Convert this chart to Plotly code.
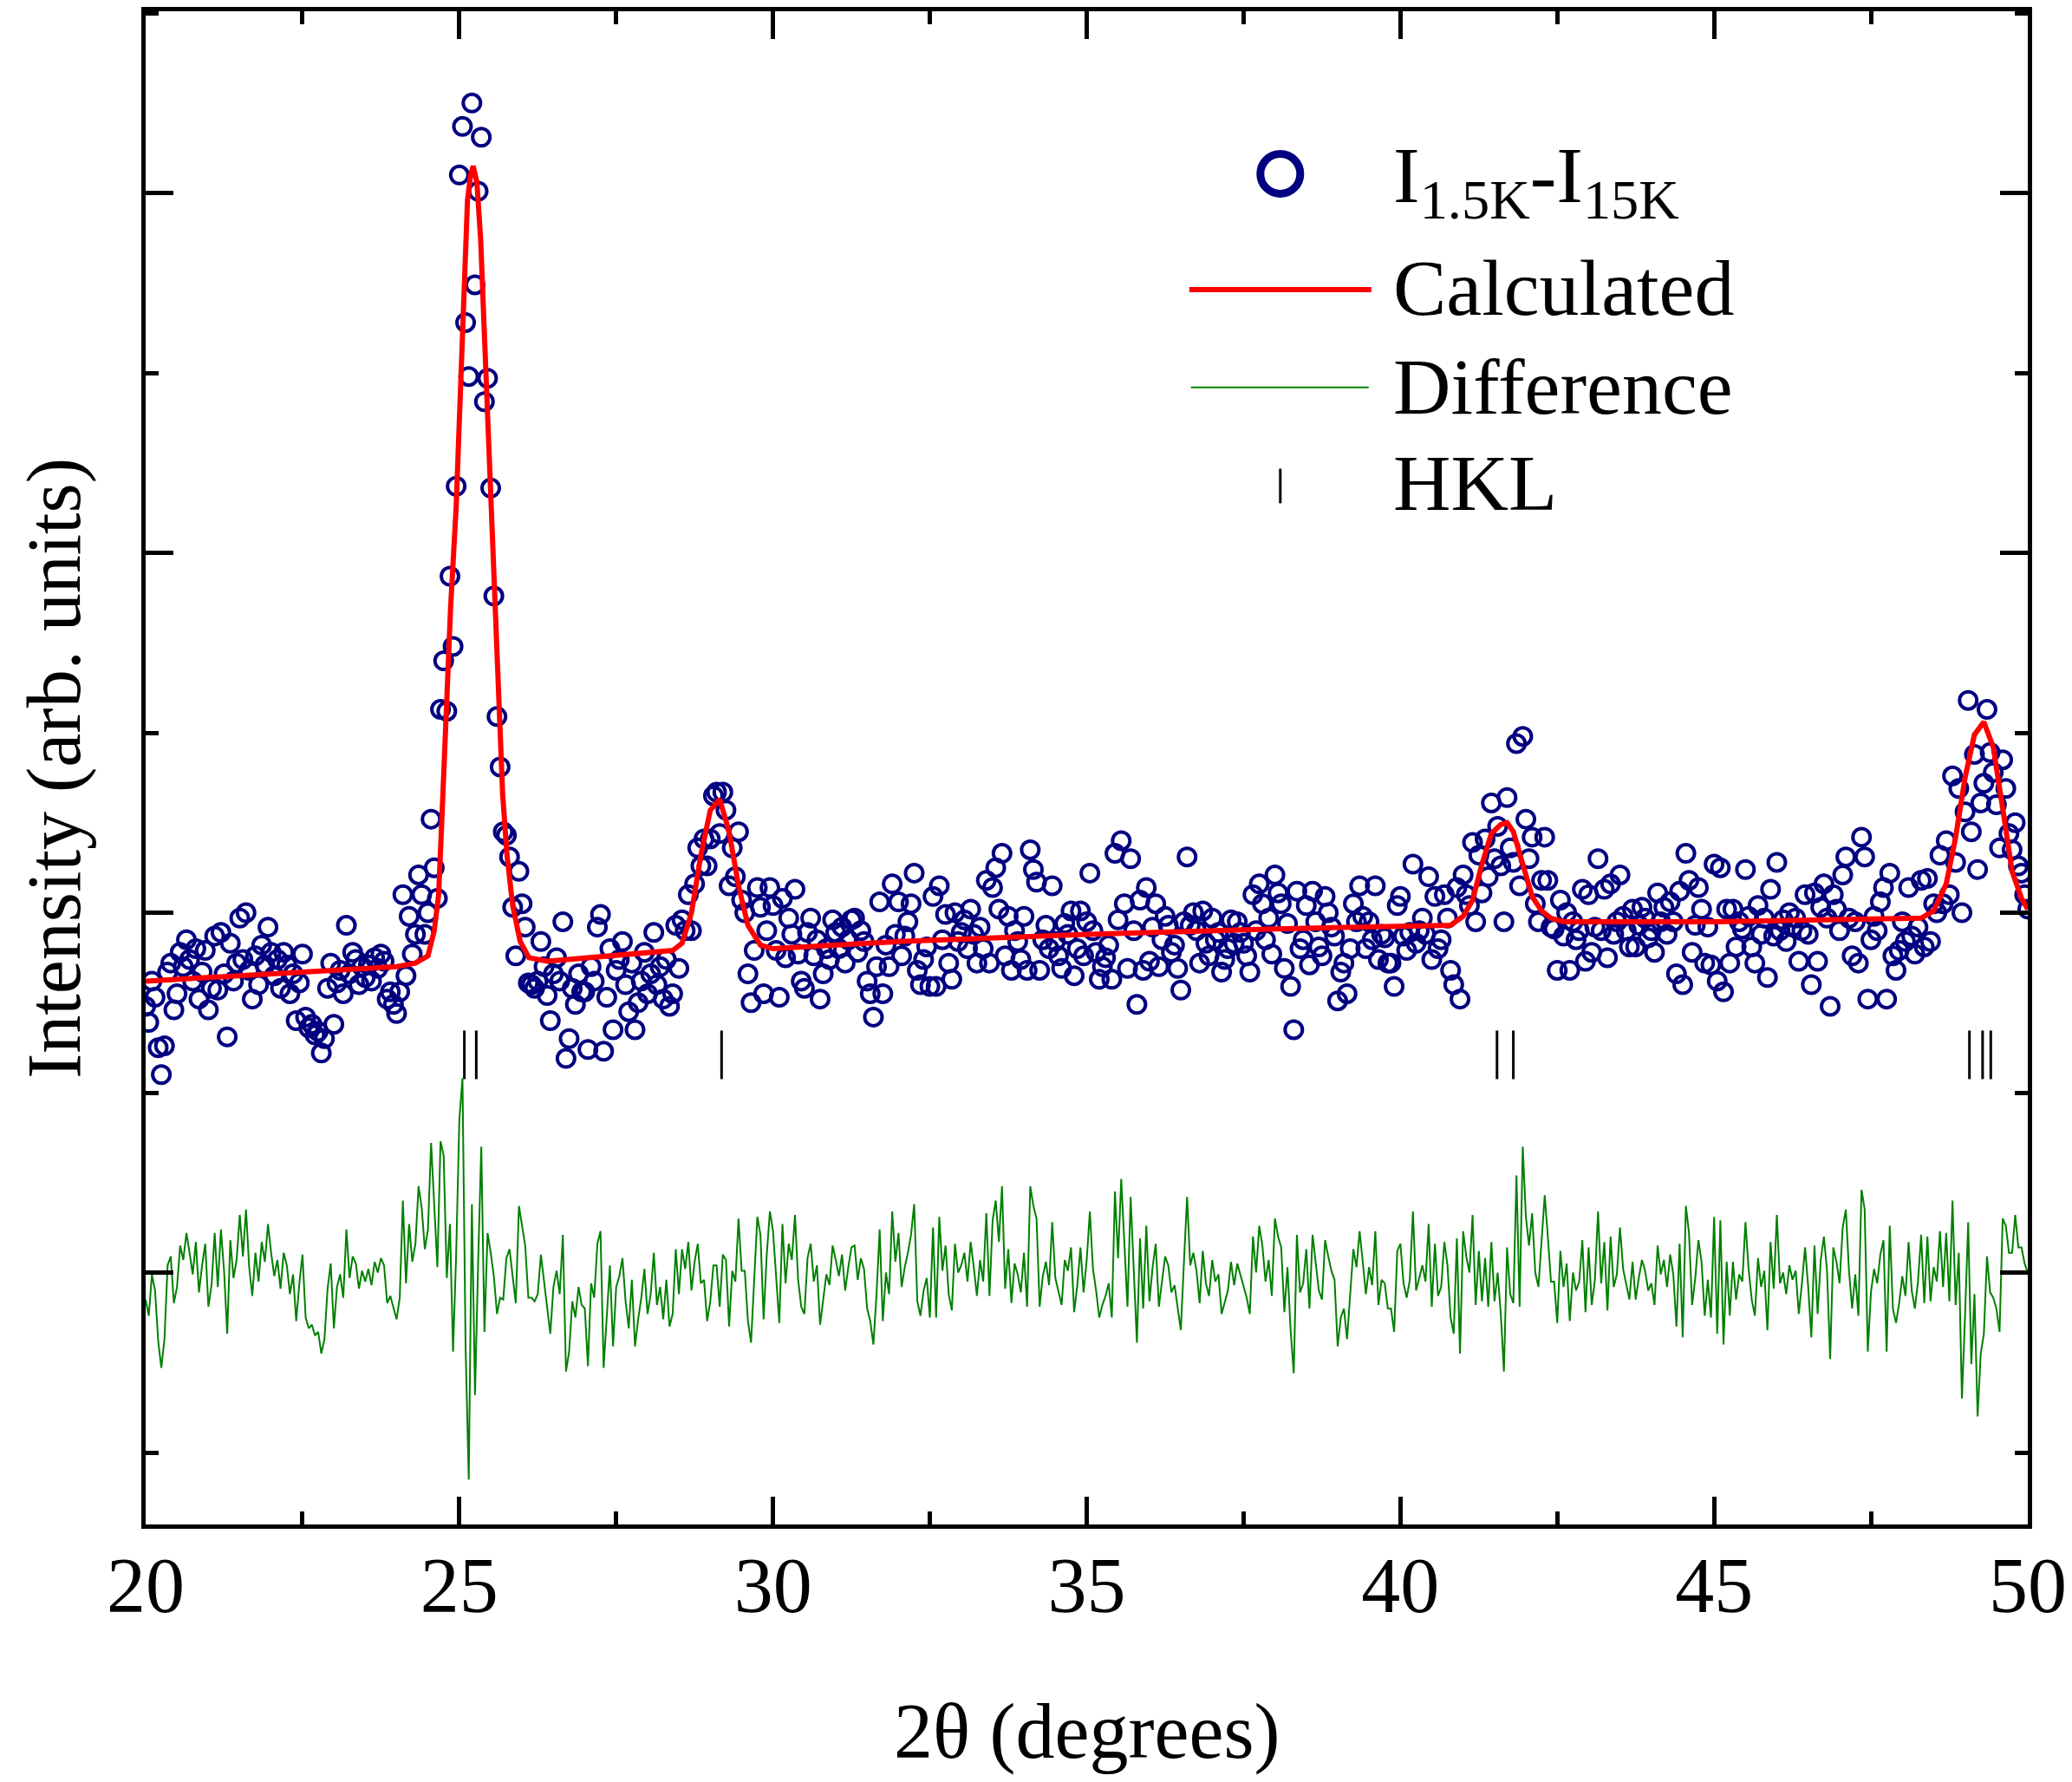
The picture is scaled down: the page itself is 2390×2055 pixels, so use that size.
import numpy as np
import plotly.graph_objects as go

# --- data (y in arbitrary units, 1 unit = one minor y tick) ---
TWO_THETA_START = 20.0
TWO_THETA_STEP = 0.05

# observed I(1.5K) - I(15K), one row per degree (20 points each), last value at 50.00
OBS = [
    1.48, 1.39, 1.62, 1.53, 1.25, 1.10, 1.26, 1.67, 1.72, 1.46, 1.55, 1.78, 1.70, 1.85, 1.74, 1.62, 1.80, 1.52, 1.67, 1.79,
    1.46, 1.58, 1.87, 1.57, 1.89, 1.66, 1.31, 1.83, 1.62, 1.72, 1.97, 1.74, 2.00, 1.68, 1.52, 1.76, 1.60, 1.82, 1.71, 1.92,
    1.78, 1.65, 1.74, 1.58, 1.78, 1.71, 1.55, 1.66, 1.40, 1.61, 1.77, 1.42, 1.36, 1.38, 1.32, 1.34, 1.22, 1.30, 1.58, 1.72,
    1.38, 1.61, 1.68, 1.55, 1.93, 1.66, 1.78, 1.74, 1.60, 1.70, 1.64, 1.71, 1.62, 1.75, 1.69, 1.77, 1.73, 1.52, 1.56, 1.49,
    1.44, 1.56, 2.10, 1.65, 1.98, 1.77, 1.88, 2.21, 2.10, 1.88, 2.00, 2.52, 2.25, 2.08, 3.13, 3.40, 3.12, 3.87, 3.48, 4.37,
    6.10, 6.37, 5.28, 4.98, 6.50, 5.49, 6.01, 6.31, 4.84, 4.97, 4.36, 3.76, 3.09, 2.81, 2.45, 2.43, 2.31, 2.03, 1.76, 2.23,
    2.05, 1.92, 1.61, 1.60, 1.58, 1.62, 1.84, 1.70, 1.54, 1.40, 1.66, 1.75, 1.62, 1.95, 1.19, 1.30, 1.58, 1.49, 1.66, 1.56,
    1.56, 1.24, 1.70, 1.62, 1.92, 1.99, 1.23, 1.53, 1.80, 1.35, 1.68, 1.74, 1.84, 1.60, 1.45, 1.72, 1.35, 1.50, 1.62, 1.78,
    1.55, 1.66, 1.89, 1.60, 1.70, 1.52, 1.74, 1.48, 1.55, 1.93, 1.69, 1.96, 1.90, 2.10, 1.90, 2.16, 2.36, 2.26, 2.41, 2.26,
    2.41, 2.65, 2.67, 2.44, 2.67, 2.57, 2.15, 2.36, 2.20, 2.45, 2.07, 2.00, 1.66, 1.50, 1.79, 2.14, 2.03, 1.55, 1.90, 2.14,
    2.04, 1.79, 1.53, 2.08, 1.75, 1.97, 1.88, 2.13, 1.77, 1.62, 1.58, 1.89, 1.97, 1.76, 1.85, 1.52, 1.66, 1.80, 1.74, 1.96,
    1.89, 1.80, 1.92, 1.72, 1.85, 1.96, 1.97, 1.78, 1.90, 1.84, 1.62, 1.55, 1.42, 1.70, 2.06, 1.55, 1.82, 1.70, 2.16, 1.88,
    2.06, 1.76, 1.87, 1.95, 2.05, 2.22, 1.68, 1.60, 1.74, 1.81, 1.59, 2.09, 1.59, 2.15, 1.85, 1.99, 1.72, 1.63, 2.00, 1.84,
    1.89, 1.96, 1.80, 2.02, 1.88, 1.72, 1.92, 1.80, 2.18, 1.72, 2.14, 2.25, 2.02, 2.33, 1.76, 1.98, 1.68, 1.90, 1.84, 1.74,
    1.98, 1.68, 2.35, 2.24, 2.17, 1.68, 1.85, 1.93, 1.80, 2.15, 1.84, 1.76, 1.69, 1.94, 1.88, 2.01, 1.65, 1.80, 2.01, 1.76,
    1.95, 2.22, 1.90, 1.78, 1.63, 1.70, 1.75, 1.82, 1.63, 2.33, 1.96, 2.40, 2.05, 1.69, 2.30, 1.90, 1.49, 2.07, 1.68, 2.14,
    1.73, 1.92, 2.05, 1.70, 1.85, 1.98, 1.93, 1.78, 1.82, 1.69, 1.57, 1.95, 2.31, 1.93, 2.00, 1.90, 1.72, 2.01, 1.83, 1.76,
    1.97, 1.85, 1.89, 1.67, 1.74, 1.80, 1.96, 1.83, 1.95, 1.89, 1.83, 1.76, 1.67, 2.10, 1.90, 2.16, 2.05, 1.85, 1.97, 1.77,
    2.21, 2.11, 2.05, 1.69, 1.94, 1.59, 1.35, 2.12, 1.80, 1.85, 2.04, 1.71, 2.12, 1.95, 1.81, 1.76, 2.09, 2.00, 1.92, 1.87,
    1.51, 1.67, 1.72, 1.55, 1.80, 2.05, 1.95, 2.15, 1.98, 1.80, 1.95, 1.85, 2.15, 1.74, 1.88, 1.86, 1.72, 1.72, 1.59, 2.04,
    2.09, 1.87, 1.79, 1.89, 2.27, 1.83, 1.90, 1.97, 1.88, 2.20, 1.74, 2.09, 1.80, 1.85, 2.10, 1.97, 1.68, 1.60, 2.14, 1.52,
    2.21, 2.10, 2.04, 2.39, 1.95, 2.32, 2.11, 2.41, 2.20, 2.61, 2.30, 2.48, 2.26, 1.95, 2.64, 2.36, 2.28, 2.94, 2.15, 2.98,
    2.52, 2.30, 2.42, 2.05, 1.95, 2.18, 2.42, 2.18, 1.92, 1.91, 1.68, 2.07, 1.87, 2.00, 1.68, 1.95, 1.85, 1.90, 2.13, 1.73,
    2.10, 1.78, 1.92, 2.30, 1.90, 2.13, 1.75, 2.16, 1.88, 1.95, 2.21, 1.98, 1.90, 1.81, 2.02, 1.81, 1.93, 2.03, 1.97, 1.86,
    1.90, 1.78, 2.11, 1.95, 2.03, 1.88, 2.06, 1.95, 1.66, 2.12, 1.60, 2.33, 2.18, 1.78, 1.93, 2.14, 2.02, 1.72, 1.92, 1.71,
    2.27, 1.62, 2.25, 1.56, 2.02, 1.72, 2.02, 1.81, 1.95, 1.91, 2.24, 1.98, 1.81, 1.72, 2.04, 1.88, 1.97, 1.64, 2.13, 1.87,
    2.28, 1.90, 1.96, 1.84, 2.00, 1.92, 1.97, 1.73, 1.90, 2.10, 1.88, 1.60, 2.11, 1.73, 2.03, 2.16, 1.97, 1.48, 2.10, 2.02,
    1.90, 2.21, 2.31, 1.97, 1.76, 1.95, 1.72, 2.42, 2.31, 1.52, 1.85, 1.98, 1.90, 2.06, 2.14, 1.52, 2.22, 1.76, 1.68, 1.79,
    1.95, 1.84, 2.14, 1.87, 1.77, 1.92, 2.18, 1.81, 2.19, 1.84, 2.05, 2.00, 2.32, 2.05, 2.40, 2.10, 2.76, 2.28, 2.69, 2.00,
    2.56, 3.18, 2.45, 2.88, 2.24, 2.61, 2.72, 3.13, 2.89, 2.78, 2.60, 2.36, 2.85, 2.69, 2.44, 2.35, 2.50, 2.26, 2.22, 2.10,
    2.02,
]

# difference curve (zero line at y = 0), same grid
DIFF = [
    -0.15, -0.24, -0.01, -0.10, -0.38, -0.53, -0.37, 0.04, 0.09, -0.17, -0.08, 0.15, 0.07, 0.22, 0.11, -0.01, 0.17, -0.11, 0.04, 0.16,
    -0.19, -0.07, 0.22, -0.08, 0.24, 0.01, -0.34, 0.18, -0.03, 0.07, 0.32, 0.09, 0.35, 0.03, -0.13, 0.11, -0.05, 0.17, 0.06, 0.27,
    0.11, -0.02, 0.07, -0.09, 0.11, 0.04, -0.12, -0.01, -0.27, -0.06, 0.10, -0.25, -0.31, -0.29, -0.35, -0.33, -0.45, -0.37, -0.09, 0.05,
    -0.31, -0.08, -0.01, -0.14, 0.24, -0.03, 0.09, 0.05, -0.09, 0.01, -0.05, 0.02, -0.07, 0.06, 0.00, 0.08, 0.04, -0.17, -0.13, -0.20,
    -0.26, -0.14, 0.40, -0.06, 0.27, 0.06, 0.16, 0.48, 0.36, 0.13, 0.24, 0.72, 0.35, 0.03, 0.73, 0.65, -0.03, 0.27, -0.44, 0.11,
    0.85, 1.08, -0.42, -1.15, 0.38, -0.68, 0.06, 0.70, -0.33, 0.22, 0.11, -0.02, -0.23, -0.14, -0.15, 0.08, 0.13, -0.01, -0.17, 0.37,
    0.25, 0.15, -0.14, -0.14, -0.16, -0.12, 0.10, -0.04, -0.20, -0.34, -0.08, 0.01, -0.12, 0.21, -0.55, -0.44, -0.16, -0.25, -0.08, -0.18,
    -0.20, -0.52, -0.06, -0.14, 0.16, 0.23, -0.53, -0.23, 0.04, -0.41, -0.08, -0.02, 0.08, -0.16, -0.31, -0.04, -0.41, -0.26, -0.14, 0.02,
    -0.23, -0.12, 0.11, -0.18, -0.08, -0.26, -0.04, -0.30, -0.23, 0.13, -0.12, 0.13, 0.02, 0.17, -0.10, 0.06, 0.16, -0.06, -0.04, -0.27,
    -0.16, 0.04, 0.04, -0.19, 0.10, 0.07, -0.30, 0.01, -0.05, 0.30, 0.01, 0.01, -0.27, -0.39, -0.06, 0.31, 0.21, -0.26, 0.10, 0.34,
    0.23, -0.02, -0.28, 0.27, -0.06, 0.16, 0.07, 0.32, -0.04, -0.19, -0.23, 0.08, 0.16, -0.05, 0.04, -0.29, -0.15, -0.01, -0.07, 0.15,
    0.07, -0.02, 0.10, -0.10, 0.03, 0.14, 0.15, -0.04, 0.08, 0.02, -0.20, -0.27, -0.40, -0.12, 0.24, -0.27, 0.00, -0.12, 0.34, 0.06,
    0.22, -0.08, 0.03, 0.11, 0.21, 0.38, -0.16, -0.24, -0.10, -0.03, -0.25, 0.25, -0.25, 0.31, 0.01, 0.15, -0.12, -0.21, 0.16, 0.00,
    0.04, 0.11, -0.05, 0.17, 0.03, -0.13, 0.07, -0.05, 0.33, -0.13, 0.29, 0.40, 0.17, 0.48, -0.09, 0.13, -0.17, 0.05, -0.01, -0.11,
    0.11, -0.19, 0.48, 0.37, 0.30, -0.19, -0.02, 0.06, -0.07, 0.28, -0.03, -0.11, -0.18, 0.07, 0.01, 0.14, -0.22, -0.07, 0.14, -0.11,
    0.07, 0.34, 0.02, -0.10, -0.25, -0.18, -0.13, -0.06, -0.25, 0.45, 0.08, 0.52, 0.17, -0.19, 0.42, 0.02, -0.39, 0.19, -0.20, 0.26,
    -0.16, 0.03, 0.16, -0.19, -0.04, 0.09, 0.04, -0.11, -0.07, -0.20, -0.32, 0.06, 0.42, 0.04, 0.11, 0.01, -0.17, 0.12, -0.06, -0.13,
    0.07, -0.05, -0.01, -0.23, -0.16, -0.10, 0.06, -0.07, 0.05, -0.01, -0.07, -0.14, -0.23, 0.20, 0.00, 0.26, 0.15, -0.05, 0.07, -0.13,
    0.30, 0.20, 0.14, -0.22, 0.03, -0.32, -0.56, 0.21, -0.11, -0.06, 0.13, -0.20, 0.21, 0.04, -0.10, -0.15, 0.18, 0.09, 0.01, -0.04,
    -0.41, -0.25, -0.20, -0.37, -0.12, 0.13, 0.03, 0.23, 0.06, -0.12, 0.03, -0.07, 0.23, -0.18, -0.04, -0.06, -0.20, -0.20, -0.33, 0.12,
    0.16, -0.06, -0.14, -0.04, 0.34, -0.10, -0.03, 0.04, -0.05, 0.27, -0.19, 0.16, -0.13, -0.08, 0.17, 0.04, -0.25, -0.34, 0.19, -0.45,
    0.23, 0.09, 0.00, 0.32, -0.18, 0.12, -0.16, 0.08, -0.19, 0.17, -0.16, 0.00, -0.23, -0.55, 0.14, -0.12, -0.17, 0.54, -0.19, 0.70,
    0.31, 0.15, 0.33, 0.00, -0.08, 0.17, 0.43, 0.20, -0.05, -0.05, -0.28, 0.12, -0.08, 0.05, -0.27, 0.00, -0.10, -0.05, 0.18, -0.22,
    0.14, -0.18, -0.04, 0.34, -0.06, 0.17, -0.21, 0.20, -0.08, -0.01, 0.25, 0.02, -0.06, -0.15, 0.06, -0.15, -0.03, 0.07, 0.01, -0.10,
    -0.06, -0.18, 0.15, -0.01, 0.07, -0.08, 0.10, -0.01, -0.30, 0.16, -0.36, 0.37, 0.22, -0.18, -0.03, 0.18, 0.06, -0.24, -0.04, -0.25,
    0.31, -0.34, 0.29, -0.40, 0.06, -0.24, 0.06, -0.15, -0.01, -0.05, 0.28, 0.02, -0.15, -0.24, 0.08, -0.08, 0.01, -0.32, 0.17, -0.09,
    0.32, -0.06, 0.00, -0.12, 0.04, -0.04, 0.01, -0.23, -0.06, 0.14, -0.08, -0.36, 0.15, -0.23, 0.07, 0.20, 0.01, -0.48, 0.14, 0.06,
    -0.06, 0.25, 0.35, 0.01, -0.20, -0.01, -0.24, 0.46, 0.35, -0.44, -0.11, 0.02, -0.06, 0.10, 0.18, -0.44, 0.26, -0.20, -0.28, -0.17,
    -0.02, -0.13, 0.17, -0.10, -0.20, -0.05, 0.21, -0.17, 0.20, -0.16, 0.03, -0.05, 0.23, -0.08, 0.22, -0.16, 0.40, -0.18, 0.11, -0.70,
    -0.24, 0.28, -0.51, -0.12, -0.80, -0.45, -0.34, 0.09, -0.11, -0.14, -0.20, -0.33, 0.30, 0.26, 0.11, 0.11, 0.32, 0.14, 0.14, 0.05,
    0.00,
]

# calculated profile, read at knots along the red curve
CALC_X = [20.0, 22.0, 24.0, 24.3, 24.5, 24.6, 24.67, 24.73, 24.79, 24.86, 24.95, 25.02, 25.08, 25.13,
          25.18, 25.22, 25.28, 25.34, 25.40, 25.46, 25.51, 25.56, 25.63, 25.69, 25.76, 25.85, 25.97,
          26.11, 26.4, 27.5, 28.4, 28.55, 28.7, 28.85, 29.0, 29.15, 29.3, 29.45, 29.6, 29.8, 30.0,
          32.0, 35.0, 38.0, 40.8, 41.0, 41.15, 41.3, 41.45, 41.6, 41.7, 41.8, 41.95, 42.1, 42.25,
          42.4, 42.6, 45.0, 48.3, 48.5, 48.7, 48.85, 49.0, 49.15, 49.3, 49.45, 49.6, 49.75, 49.9, 50.0]
CALC_Y = [1.62, 1.66, 1.70, 1.72, 1.76, 1.90, 2.10, 2.59, 3.14, 3.69, 4.26, 4.90, 5.53, 5.96,
          6.10, 6.15, 6.06, 5.74, 5.21, 4.68, 4.15, 3.70, 3.14, 2.66, 2.32, 2.04, 1.84,
          1.75, 1.73, 1.76, 1.79, 1.83, 2.00, 2.32, 2.57, 2.63, 2.45, 2.15, 1.93, 1.82, 1.80,
          1.84, 1.88, 1.91, 1.93, 1.98, 2.07, 2.27, 2.44, 2.49, 2.50, 2.45, 2.28, 2.09, 2.01,
          1.97, 1.95, 1.95, 1.97, 2.01, 2.16, 2.42, 2.75, 2.99, 3.06, 2.92, 2.58, 2.23, 2.08, 2.02]

# Bragg reflection positions (HKL markers)
HKL_POS = [25.08, 25.27, 29.18, 41.54, 41.80, 49.07, 49.28, 49.41]
HKL_LEVEL = 1.21

two_theta = np.round(TWO_THETA_START + TWO_THETA_STEP * np.arange(len(OBS)), 2)

FONT = "Liberation Serif"
NAVY = "#000080"
RED = "#FF0000"
GREEN = "#008000"

fig = go.Figure()

fig.add_trace(go.Scatter(
    x=two_theta, y=DIFF, mode="lines",
    line=dict(color=GREEN, width=2), name="Difference"))

fig.add_trace(go.Scatter(
    x=two_theta, y=OBS, mode="markers",
    marker=dict(symbol="circle-open", size=20, color=NAVY, line=dict(width=4, color=NAVY)),
    name="I1.5K-I15K"))

fig.add_trace(go.Scatter(
    x=CALC_X, y=CALC_Y, mode="lines",
    line=dict(color=RED, width=6), name="Calculated"))

fig.add_trace(go.Scatter(
    x=HKL_POS, y=[HKL_LEVEL] * len(HKL_POS), mode="markers",
    marker=dict(symbol="line-ns", size=40, line=dict(width=3, color="black")),
    name="HKL"))

axis_common = dict(
    showline=True, linewidth=5, linecolor="black", mirror="allticks",
    ticks="inside", ticklen=32, tickwidth=5, tickcolor="black",
    showgrid=False, zeroline=False,
)

fig.update_xaxes(
    range=[20, 50], tick0=20, dtick=5,
    minor=dict(dtick=2.5, ticks="inside", ticklen=15, tickwidth=5, tickcolor="black"),
    tickfont=dict(family=FONT, size=90, color="black"),
    ticklabelstandoff=-12,
    **axis_common)

fig.update_yaxes(
    range=[-1.40, 7.01], tick0=0, dtick=2, showticklabels=False,
    minor=dict(dtick=1, ticks="inside", ticklen=15, tickwidth=5, tickcolor="black"),
    **axis_common)


# --- hand-drawn legend (paper coordinates, from pixel positions in the frame) ---
def px(x):
    return (x - 167.5) / 2170.5


def py(y):
    return (1758 - y) / 1750.0


shapes = [
    dict(type="circle", xref="paper", yref="paper",
         x0=px(1476 - 23), x1=px(1476 + 23), y0=py(196 + 23), y1=py(196 - 23),
         line=dict(color=NAVY, width=9)),
    dict(type="line", xref="paper", yref="paper", x0=px(1371), x1=px(1581), y0=py(330), y1=py(330),
         line=dict(color=RED, width=6)),
    dict(type="line", xref="paper", yref="paper", x0=px(1373), x1=px(1578), y0=py(443), y1=py(443),
         line=dict(color=GREEN, width=2)),
    dict(type="line", xref="paper", yref="paper", x0=px(1476), x1=px(1476), y0=py(537), y1=py(577),
         line=dict(color="black", width=3)),
]

legend_font = dict(family=FONT, size=92, color="black")
annotations = [
    dict(text="I<sub>1.5K</sub>-I<sub>15K</sub>", x=px(1604), y=py(204), xref="paper", yref="paper",
         xanchor="left", yanchor="middle", showarrow=False, font=legend_font),
    dict(text="Calculated", x=px(1604), y=py(328), xref="paper", yref="paper",
         xanchor="left", yanchor="middle", showarrow=False, font=legend_font),
    dict(text="Difference", x=px(1604), y=py(442), xref="paper", yref="paper",
         xanchor="left", yanchor="middle", showarrow=False, font=legend_font),
    dict(text="HKL", x=px(1604), y=py(554), xref="paper", yref="paper",
         xanchor="left", yanchor="middle", showarrow=False, font=legend_font),
    # axis titles
    dict(text="2θ (degrees)", x=0.5, y=py(1998), xref="paper", yref="paper",
         xanchor="center", yanchor="middle", showarrow=False,
         font=dict(family=FONT, size=90, color="black")),
    dict(text="Intensity (arb. units)", x=px(62), y=0.50, xref="paper", yref="paper",
         xanchor="center", yanchor="middle", showarrow=False, textangle=-90,
         font=dict(family=FONT, size=88, color="black")),
]

# page body adds an 8 px offset, so margins are shifted by 8 px
fig.update_layout(
    width=2390, height=2055,
    margin=dict(l=160, r=59, t=0, b=305),
    paper_bgcolor="white", plot_bgcolor="white",
    showlegend=False,
    shapes=shapes, annotations=annotations,
)

fig.write_html("out.html")
